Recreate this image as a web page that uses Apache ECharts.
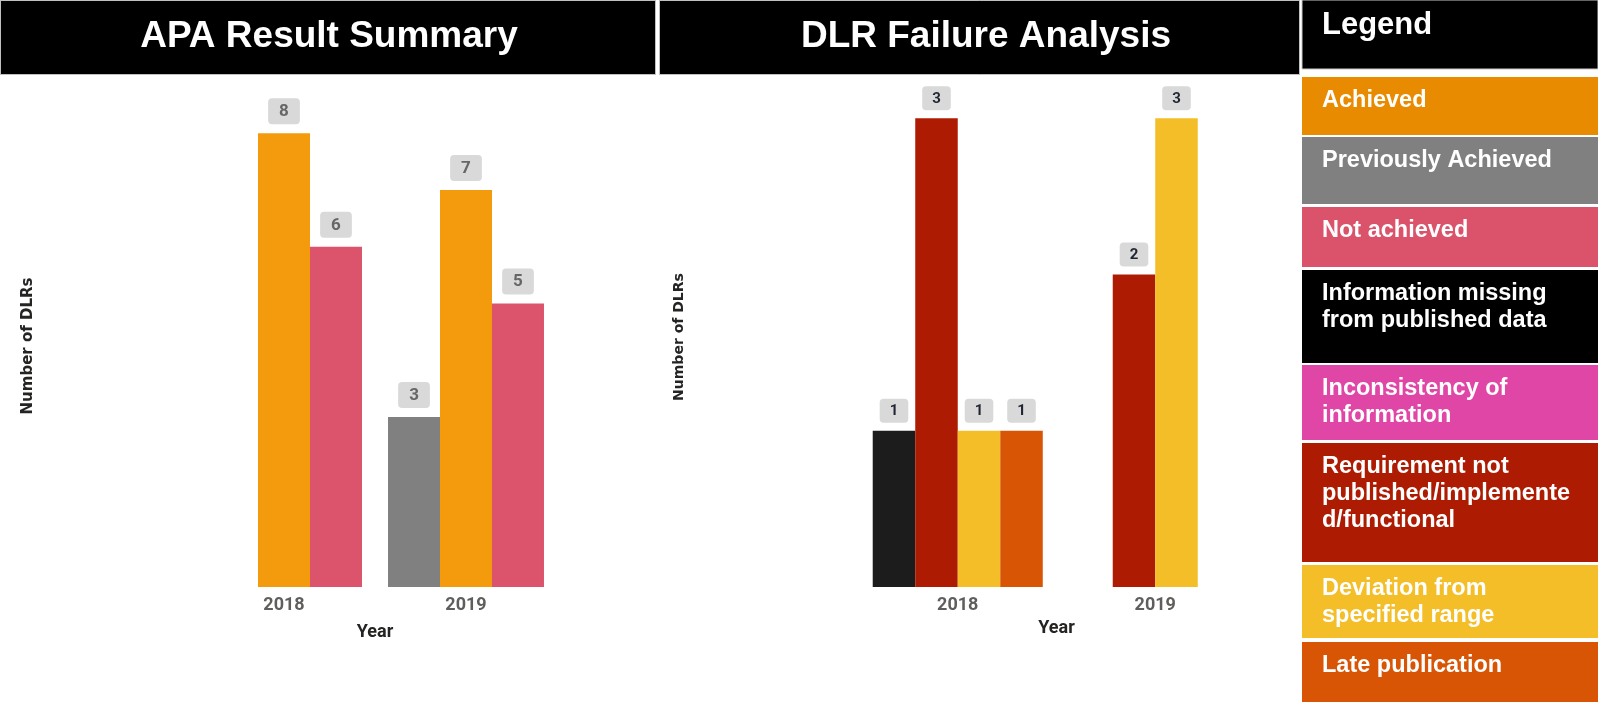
<!DOCTYPE html>
<html>
<head>
<meta charset="utf-8">
<title>APA / DLR</title>
<script src="https://cdn.jsdelivr.net/npm/echarts@6/dist/echarts.min.js"></script>
<style>
  html, body { margin: 0; padding: 0; background: #fff; }
  #main { width: 1598px; height: 702px; }
</style>
</head>
<body>
<div id="main"></div>
<script>
// APA result summary
const apaYears = ['2018', '2019']
const apaPrevious = [null, 3]
const apaAchieved = [8, 7]
const apaNotAchieved = [6, 5]

// DLR failure analysis
const dlrYears = ['2018', '2019']
const dlrInfoMissing = [1, null]
const dlrRequirement = [3, 2]
const dlrDeviation = [1, 3]
const dlrLate = [1, null]

// legend panel
const legendNames = [
  'Achieved',
  'Previously Achieved',
  'Not achieved',
  'Information missing\nfrom published data',
  'Inconsistency of\ninformation',
  'Requirement not\npublished/implemente\nd/functional',
  'Deviation from\nspecified range',
  'Late publication'
]
const legendColors = ['#e98b00', '#808080', '#db536b', '#000000', '#df46a5', '#ad1c02', '#f3be28', '#d85505']
// box tops / bottoms of the legend panel
const legendTops = [77, 137, 207, 270, 365, 443, 565, 642]
const legendBottoms = [135, 204, 267, 363, 440, 562, 638, 702]

const barColors = {
  previous: '#808080',
  achieved: '#f39b0d',
  notAchieved: '#dc546b',
  info: '#1c1c1c',
  requirement: '#ad1c02',
  deviation: '#f3be28',
  late: '#d85505'
}

function leftLabel () {
  return {
    show: true,
    position: 'top',
    distance: 9,
    backgroundColor: '#d9d9d9',
    borderRadius: 4,
    padding: [5, 11, 4, 11],
    fontFamily: 'Roboto',
    fontWeight: 'bold',
    fontSize: 17,
    color: '#666666'
  }
}

function rightLabel () {
  return {
    show: true,
    position: 'top',
    distance: 8,
    backgroundColor: '#d9d9d9',
    borderRadius: 4,
    padding: [5, 10, 4, 10],
    fontFamily: 'Roboto',
    fontWeight: 'bold',
    fontSize: 15,
    color: '#1f2533'
  }
}

function xAxisCfg (idx, data, gap) {
  return {
    gridIndex: idx,
    type: 'category',
    data: data,
    axisLine: { show: false },
    axisTick: { show: false },
    axisLabel: {
      margin: 9,
      fontFamily: 'Roboto',
      fontWeight: 'bold',
      fontSize: 18,
      color: '#605e5c'
    },
    name: 'Year',
    nameLocation: 'middle',
    nameGap: gap,
    nameTextStyle: {
      fontFamily: 'Roboto',
      fontWeight: 'bold',
      fontSize: 18,
      color: '#252423'
    }
  }
}

function yAxisCfg (idx, max, gap, size) {
  return {
    gridIndex: idx,
    type: 'value',
    min: 0,
    max: max,
    axisLine: { show: false },
    axisTick: { show: false },
    axisLabel: { show: false },
    splitLine: { show: false },
    name: 'Number of DLRs',
    nameLocation: 'middle',
    nameRotate: 90,
    nameGap: gap,
    nameTextStyle: {
      fontFamily: 'DejaVu Sans',
      fontWeight: 'bold',
      fontSize: size,
      color: '#252423'
    }
  }
}

// header bars + legend panel
const graphics = [
  {
    type: 'rect',
    shape: { x: 0.5, y: 0.5, width: 655, height: 74 },
    style: { fill: '#000', stroke: '#c0c0c0', lineWidth: 1 }
  },
  {
    type: 'text',
    x: 329, y: 37,
    style: { text: 'APA Result Summary', fill: '#fff', font: 'bold 37px "Liberation Sans"', align: 'center', verticalAlign: 'middle' }
  },
  {
    type: 'rect',
    shape: { x: 659.5, y: 0.5, width: 640, height: 74 },
    style: { fill: '#000', stroke: '#c0c0c0', lineWidth: 1 }
  },
  {
    type: 'text',
    x: 986, y: 37,
    style: { text: 'DLR Failure Analysis', fill: '#fff', font: 'bold 37px "Liberation Sans"', align: 'center', verticalAlign: 'middle' }
  },
  {
    type: 'rect',
    shape: { x: 1302, y: 0, width: 296, height: 69 },
    style: { fill: '#000', stroke: '#c8c8c8', lineWidth: 1 }
  },
  {
    type: 'text',
    x: 1322, y: 25,
    style: { text: 'Legend', fill: '#fff', font: 'bold 31px "Liberation Sans"', verticalAlign: 'middle' }
  }
]

legendNames.forEach((name, i) => {
  graphics.push({
    type: 'rect',
    shape: { x: 1302, y: legendTops[i], width: 296, height: legendBottoms[i] - legendTops[i] },
    style: { fill: legendColors[i] }
  })
  graphics.push({
    type: 'text',
    x: 1322,
    y: legendTops[i] + 10,
    style: {
      text: name,
      fill: '#fff',
      font: 'bold 23.5px "Liberation Sans"',
      lineHeight: 27,
      verticalAlign: 'top'
    }
  })
})

const option = {
  backgroundColor: '#fff',
  animation: false,
  graphic: graphics,
  grid: [
    { left: 193, top: 105, width: 364, height: 482 },
    { left: 859, top: 87, width: 395, height: 500 }
  ],
  xAxis: [
    xAxisCfg(0, apaYears, 36),
    xAxisCfg(1, dlrYears, 32)
  ],
  yAxis: [
    yAxisCfg(0, 8.5, 157, 15),
    yAxisCfg(1, 3.2, 173, 14)
  ],
  series: [
    {
      name: 'Previously Achieved',
      type: 'bar',
      xAxisIndex: 0,
      yAxisIndex: 0,
      barGap: '0%',
      barCategoryGap: '14.3%',
      data: apaPrevious,
      itemStyle: { color: barColors.previous },
      label: leftLabel()
    },
    {
      name: 'Achieved',
      type: 'bar',
      xAxisIndex: 0,
      yAxisIndex: 0,
      barGap: '0%',
      barCategoryGap: '14.3%',
      data: apaAchieved,
      itemStyle: { color: barColors.achieved },
      label: leftLabel()
    },
    {
      name: 'Not achieved',
      type: 'bar',
      xAxisIndex: 0,
      yAxisIndex: 0,
      barGap: '0%',
      barCategoryGap: '14.3%',
      data: apaNotAchieved,
      itemStyle: { color: barColors.notAchieved },
      label: leftLabel()
    },
    {
      name: 'Information missing from published data',
      type: 'bar',
      xAxisIndex: 1,
      yAxisIndex: 1,
      barGap: '0%',
      barCategoryGap: '13.9%',
      data: dlrInfoMissing,
      itemStyle: { color: barColors.info },
      label: rightLabel()
    },
    {
      name: 'Requirement not published/implemented/functional',
      type: 'bar',
      xAxisIndex: 1,
      yAxisIndex: 1,
      barGap: '0%',
      barCategoryGap: '13.9%',
      data: dlrRequirement,
      itemStyle: { color: barColors.requirement },
      label: rightLabel()
    },
    {
      name: 'Deviation from specified range',
      type: 'bar',
      xAxisIndex: 1,
      yAxisIndex: 1,
      barGap: '0%',
      barCategoryGap: '13.9%',
      data: dlrDeviation,
      itemStyle: { color: barColors.deviation },
      label: rightLabel()
    },
    {
      name: 'Late publication',
      type: 'bar',
      xAxisIndex: 1,
      yAxisIndex: 1,
      barGap: '0%',
      barCategoryGap: '13.9%',
      data: dlrLate,
      itemStyle: { color: barColors.late },
      label: rightLabel()
    }
  ]
}

const myChart = echarts.init(document.getElementById('main'))
myChart.setOption(option)
window.addEventListener('resize', () => {
  myChart.resize()
})
</script>
</body>
</html>
